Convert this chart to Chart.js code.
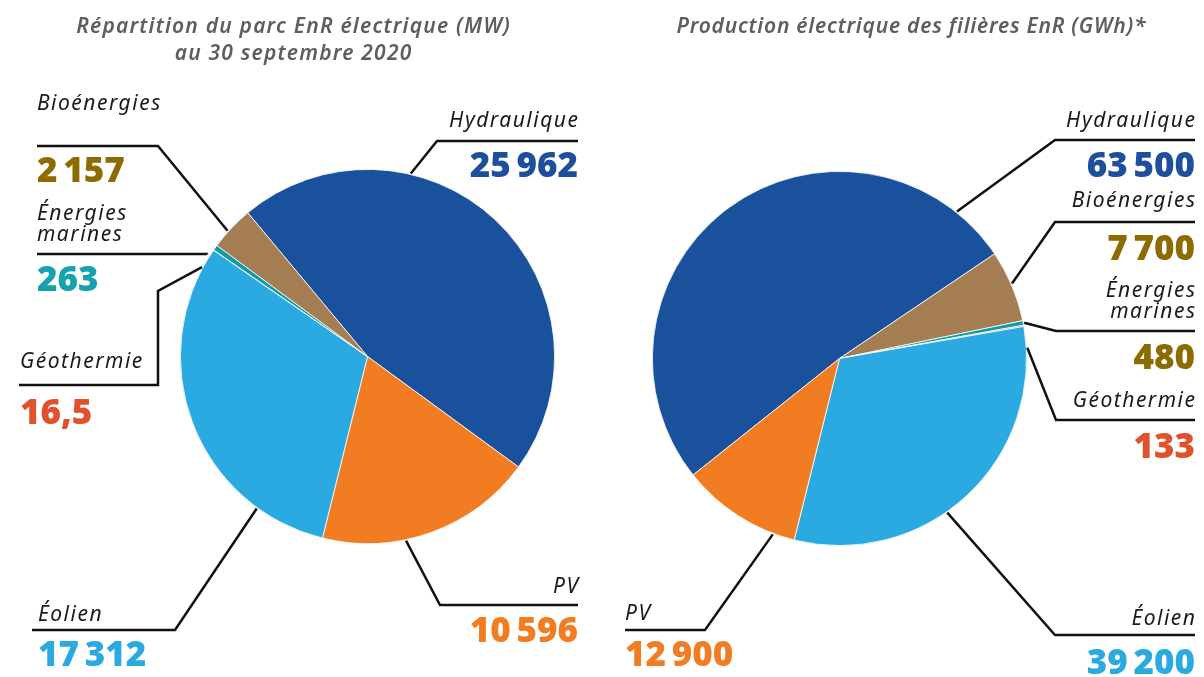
<!DOCTYPE html>
<html lang="fr">
<head>
<meta charset="utf-8">
<title>Parc et production EnR électrique</title>
<script src="https://cdn.jsdelivr.net/npm/chart.js@4.4.1/dist/chart.umd.min.js"></script>
<style>
  html, body { margin: 0; padding: 0; background: #fff; }
  #wrap { position: relative; width: 1204px; height: 677px; }
  #wrap canvas { position: absolute; top: 0; }
  #parc { left: 0; }
  #prod { left: 602px; }
</style>
</head>
<body>
<div id="wrap">
  <canvas id="parc" width="602" height="677"></canvas>
  <canvas id="prod" width="602" height="677"></canvas>
</div>
<script>
// parc installé au 30 septembre 2020 (MW)
const parcCategories = ['Hydraulique', 'PV', 'Éolien', 'Géothermie', 'Énergies marines', 'Bioénergies'];
const parcValues     = [25962, 10596, 17312, 16.5, 263, 2157];

// production électrique (GWh)
const prodCategories = ['Hydraulique', 'Bioénergies', 'Énergies marines', 'Géothermie', 'Éolien', 'PV'];
const prodValues     = [63500, 7700, 480, 133, 39200, 12900];

const SLICE_COLORS = {
  'Hydraulique':      '#1a519c',
  'PV':               '#f27c22',
  'Éolien':           '#2baae2',
  'Géothermie':       '#e05a2b',
  'Énergies marines': '#0f9caa',
  'Bioénergies':      '#a57d53',
};

const NUMBER_COLORS = {
  'Hydraulique':      '#1d4f9c',
  'PV':               '#f27c22',
  'Éolien':           '#2baae2',
  'Géothermie':       '#e0522b',
  'Énergies marines': '#13a2ae',
  'Bioénergies':      '#8d6b00',
};

const TITLE_FONT  = 'italic 600 21px "Noto Sans"';
const NAME_FONT   = 'italic 400 21px "Noto Sans"';
const NUMBER_FONT = '800 35px "Open Sans"';

// 25962 -> "25 962", 16.5 -> "16,5"
function fmt(v) {
  const [i, d] = String(v).split('.');
  const int = i.replace(/\B(?=(\d{3})+(?!\d))/g, '\u2009');
  return d ? int + ',' + d : int;
}

// letter-spaced text; the trailing spacing is taken back for right / centre alignment
function spacedText(ctx, text, x, y, align, spacing) {
  ctx.letterSpacing = spacing + 'px';
  ctx.textAlign = align;
  const shift = align === 'right' ? spacing : align === 'center' ? spacing / 2 : 0;
  ctx.fillText(text, x + shift, y);
  ctx.letterSpacing = '0px';
}

// leader lines + category names + values, drawn over the pie
const leaderLabels = {
  id: 'leaderLabels',
  afterDraw(chart, args, opts) {
    const ctx = chart.ctx;
    const meta = chart.getDatasetMeta(0);
    const labels = chart.data.labels;
    const values = chart.data.datasets[0].data;
    ctx.save();
    ctx.textBaseline = 'alphabetic';

    ctx.fillStyle = '#5e5e5e';
    ctx.font = TITLE_FONT;
    opts.title.lines.forEach((t, i) =>
      spacedText(ctx, t, opts.title.x, opts.title.y[i], 'center', opts.title.spacing));

    opts.items.forEach(item => {
      const idx = labels.indexOf(item.cat);
      const arc = meta.data[idx];
      const p = arc.getProps(['x', 'y', 'startAngle', 'endAngle', 'outerRadius'], true);
      const a = p.startAngle + item.t * (p.endAngle - p.startAngle) + (item.dA || 0) * Math.PI / 180;
      const r = p.outerRadius + (item.dr || 1);

      ctx.beginPath();
      ctx.moveTo(p.x + Math.cos(a) * r, p.y + Math.sin(a) * r);
      item.path.forEach(([px, py]) => ctx.lineTo(px, py));
      ctx.lineWidth = 2.5;
      ctx.strokeStyle = '#111';
      ctx.lineJoin = 'miter';
      ctx.stroke();

      const names = item.nameY.length > 1 ? item.cat.split(' ') : [item.cat];
      ctx.fillStyle = '#1a1a1a';
      ctx.font = NAME_FONT;
      names.forEach((t, i) => spacedText(ctx, t, item.x, item.nameY[i], item.align, 1.5));

      ctx.fillStyle = item.numColor || NUMBER_COLORS[item.cat];
      ctx.font = NUMBER_FONT;
      ctx.textAlign = item.align;
      ctx.fillText(fmt(values[idx]), item.x, item.numY);
    });
    ctx.restore();
  }
};

function makePie(canvasId, categories, values, rotation, padding, labelOpts) {
  return new Chart(document.getElementById(canvasId), {
    type: 'pie',
    data: {
      labels: categories,
      datasets: [{
        data: values,
        backgroundColor: categories.map(c => SLICE_COLORS[c]),
        borderColor: '#ffffff',
        borderWidth: 0.8,
        hoverBorderWidth: 0.8,
        hoverOffset: 0,
      }],
    },
    options: {
      responsive: false,
      animation: false,
      events: [],
      rotation,
      layout: { padding },
      plugins: {
        legend: { display: false },
        tooltip: { enabled: false },
        leaderLabels: labelOpts,
      },
    },
    plugins: [leaderLabels],
  });
}

makePie('parc', parcCategories, parcValues, -39.8,
  { left: 180, top: 169, right: 47, bottom: 133 },
  {
    title: { lines: ['Répartition du parc EnR électrique (MW)', 'au 30 septembre 2020'], x: 293, y: [33, 60], spacing: 1.2 },
    items: [
      { cat: 'Hydraulique', t: 0.32, path: [[437, 141], [578, 141]], x: 578, align: 'right', nameY: [127], numY: 177 },
      { cat: 'PV', t: 0.62, path: [[440, 605], [578, 605]], x: 578, align: 'right', nameY: [593], numY: 642 },
      { cat: 'Éolien', t: 0.2, path: [[175, 630], [32, 630]], x: 38, align: 'left', nameY: [621], numY: 666 },
      { cat: 'Géothermie', t: 0.5, dA: -6.3, path: [[158, 291], [158, 385], [19, 385]], x: 20, align: 'left', nameY: [368], numY: 424 },
      { cat: 'Énergies marines', t: 0.5, dA: -3.1, dr: 3, path: [[207, 254], [37, 254]], x: 37, align: 'left', nameY: [220, 241], numY: 291 },
      { cat: 'Bioénergies', t: 0.4, path: [[158, 146], [37, 146]], x: 37, align: 'left', nameY: [110], numY: 182 },
    ],
  });

makePie('prod', prodCategories, prodValues, -128.5,
  { left: 50, top: 171, right: 177, bottom: 131 },
  {
    title: { lines: ['Production électrique des filières EnR (GWh)*'], x: 309, y: [33], spacing: 0.75 },
    items: [
      { cat: 'Hydraulique', t: 0.906, path: [[453, 140], [593, 140]], x: 593, align: 'right', nameY: [127], numY: 177 },
      { cat: 'Bioénergies', t: 0.47, path: [[453, 222], [593, 222]], x: 593, align: 'right', nameY: [207], numY: 260 },
      { cat: 'Énergies marines', t: 0.5, path: [[454, 331], [593, 331]], x: 593, align: 'right', nameY: [297, 318], numY: 369, numColor: '#8d6b00' },
      { cat: 'Géothermie', t: 0.5, dA: 6.8, path: [[454, 420], [593, 420]], x: 593, align: 'right', nameY: [407], numY: 458 },
      { cat: 'Éolien', t: 0.57, path: [[453, 635], [593, 635]], x: 593, align: 'right', nameY: [625], numY: 674 },
      { cat: 'PV', t: 0.18, path: [[103, 630], [23, 630]], x: 23, align: 'left', nameY: [620], numY: 666 },
    ],
  });
</script>
</body>
</html>
